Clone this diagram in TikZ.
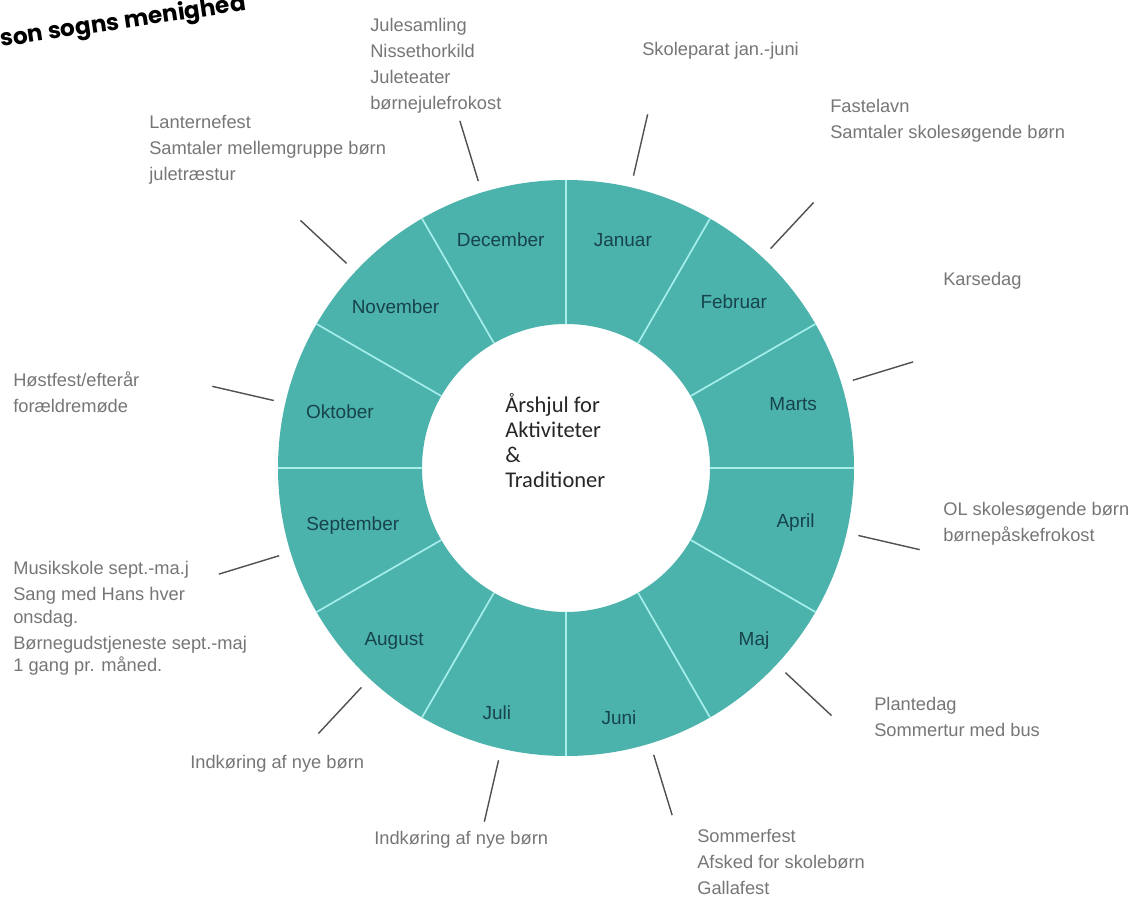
\documentclass[tikz,border=0pt]{standalone}
\usepackage{fontspec}
\setmainfont{Liberation Sans}
\newfontfamily\titlefont{Poppins}
\newfontfamily\hubfont{Carlito}
\definecolor{wheelteal}{RGB}{76,178,172}
\definecolor{monthteal}{RGB}{22,68,74}
\definecolor{sepcyan}{RGB}{165,238,234}
\definecolor{notegray}{RGB}{118,118,118}
\definecolor{leadgray}{RGB}{80,80,80}
\tikzset{
        ring/.style={fill=wheelteal},          % the coloured band of the wheel
        sep/.style={draw=sepcyan, line width=1.2pt},
        month/.style={text=monthteal, inner sep=0pt, font=\fontsize{13.5}{16}\selectfont},
        leader/.style={draw=leadgray, line width=1pt},
        note/.style={anchor=north west, inner sep=0pt, align=left, text=notegray,
                font=\fontsize{13}{16}\selectfont},
        hub/.style={anchor=west, inner sep=0pt, align=left, text=black!85,
                font=\hubfont\fontsize{16}{17.8}\selectfont},
        titletext/.style={inner sep=0pt, font=\titlefont\bfseries\fontsize{16.5}{19}\selectfont}
        }

\begin{document}
\begin{tikzpicture}[x=0.025cm, y=0.025cm]
        \useasboundingbox (0,0) rectangle (1134,897);
        \node[titletext, rotate=8.5, anchor=base west](title) at (1,850){son sogns menighed};

        \begin{scope}[shift={(566,429)}]
        \fill[ring, even odd rule] (0,0) circle (288) (0,0) circle (144);
        \foreach \a in {0,30,...,330}
                \draw[sep] (\a:144) -- (\a:288);
        \foreach \m/\a/\r in {Januar/76/235, Februar/44.7/236, Marts/15.7/236,
                        April/-13.4/236, Maj/-42.5/255, Juni/-78/255, Juli/-105.8/254,
                        August/-134.8/244, September/-164.8/221, Oktober/166/233,
                        November/136.5/235, December/106/237}
                \node[month](\m) at (\a:\r){\m};
        % short ticks from the wheel towards the notes
        \foreach \i/\a in {jan/75, feb/45, mar/15, apr/-15, maj/-45, jun/-75,
                        jul/-105, aug/-135, sep/-165, okt/165, nov/135, dec/105} {
                \coordinate (\i-in) at (\a+2:300);
                \coordinate (\i-out) at (\a+2:363);
                \draw[leader] (\i-in) -- (\i-out);
        }
        \node[hub](hub) at (-61,27.5){Årshjul for\\Aktiviteter\\\&\\Traditioner};
        \end{scope}

        \node[note](note-dec) at (370,879){Julesamling\\[2.5pt]Nissethorkild\\[2.5pt]Juleteater\\[2.5pt]børnejulefrokost};
        \node[note](note-jan) at (642,855){Skoleparat jan.-juni};
        \node[note](note-feb) at (830,798){Fastelavn\\[2.5pt]Samtaler skolesøgende børn};
        \node[note](note-mar) at (943,625){Karsedag};
        \node[note](note-apr) at (943,395){OL skolesøgende børn\\[2.5pt]børnepåskefrokost};
        \node[note](note-maj) at (874,200){Plantedag\\[2.5pt]Sommertur med bus};
        \node[note](note-jun) at (697,68){Sommerfest\\[2.5pt]Afsked for skolebørn\\[2.5pt]Gallafest};
        \node[note](note-jul) at (374,66){Indkøring af nye børn};
        \node[note](note-aug) at (190,142){Indkøring af nye børn};
        \node[note](note-sep) at (13,336){Musikskole sept.-ma.j\\[2.5pt]Sang med Hans hver\\onsdag.\\[2.5pt]Børnegudstjeneste sept.-maj\\1 gang pr. måned.};
        \node[note](note-okt) at (13,526){Høstfest/efterår\\[2.5pt]forældremøde};
        \node[note](note-nov) at (149,782){Lanternefest\\[2.5pt]Samtaler mellemgruppe børn\\[2.5pt]juletræstur};
\end{tikzpicture}
\end{document}
